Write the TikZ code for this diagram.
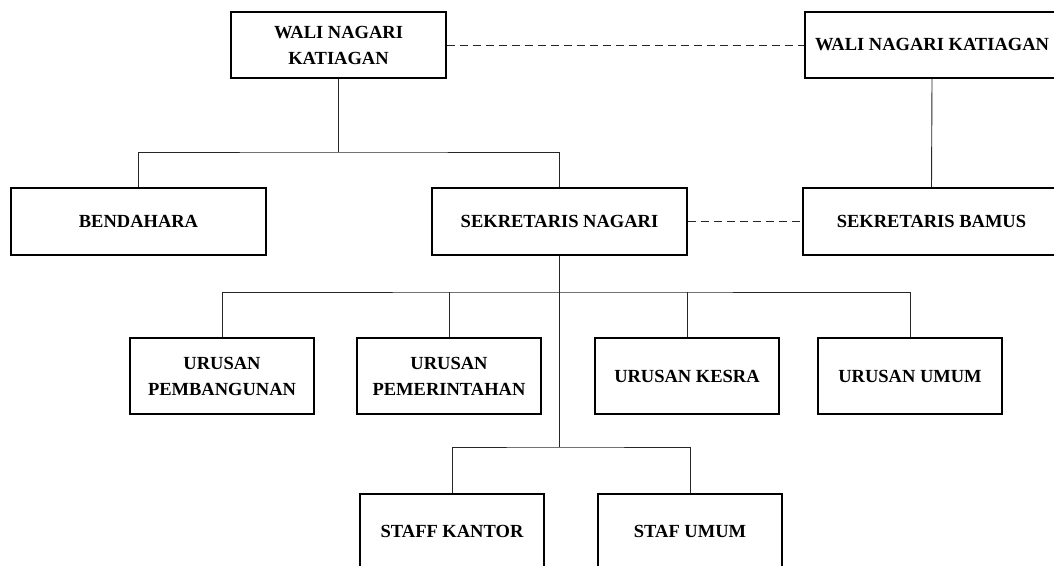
\documentclass[tikz,border=0pt]{standalone}
\usepackage{fontspec}
\setmainfont{Liberation Serif}
\begin{document}
\begin{tikzpicture}[x=1pt,y=-1pt,
  box/.style={draw=black,line width=1.3pt,rectangle,inner sep=0pt,align=center,
    font=\fontsize{18.5}{26}\selectfont\bfseries},
  conn/.style={draw=black!85,line width=0.9pt},
  dconn/.style={draw=black!85,line width=0.9pt,dash pattern=on 8pt off 5pt}]
\useasboundingbox (0,0) rectangle (1054,565);
\clip (0,0) rectangle (1054,565);
\node[box,minimum width=215,minimum height=66] (w1) at (338.5,45) {WALI NAGARI\\KATIAGAN};
\node[box,minimum width=254,minimum height=66] (w2) at (932,45) {WALI NAGARI KATIAGAN};
\node[box,minimum width=255,minimum height=67] (ben) at (138.5,221.5) {BENDAHARA};
\node[box,minimum width=255,minimum height=67] (sek) at (559.5,221.5) {SEKRETARIS NAGARI};
\node[box,minimum width=257,minimum height=67] (bam) at (931.5,221.5) {SEKRETARIS BAMUS};
\node[box,minimum width=184,minimum height=76] (up) at (222,376) {URUSAN\\PEMBANGUNAN};
\node[box,minimum width=184,minimum height=76] (upm) at (449,376) {URUSAN\\PEMERINTAHAN};
\node[box,minimum width=184,minimum height=76] (kes) at (687,376) {URUSAN KESRA};
\node[box,minimum width=184,minimum height=76] (umu) at (910,376) {URUSAN UMUM};
\node[box,minimum width=184,minimum height=75] (sk) at (452,531.5) {STAFF KANTOR};
\node[box,minimum width=184,minimum height=75] (su) at (690,531.5) {STAF UMUM};
\coordinate (h1) at (338.5,152);
\coordinate (h2) at (559.5,292);
\coordinate (h3) at (559.5,447);
\draw[conn] (w1.south) -- (h1);
\draw[conn] (ben.north) |- (h1) -| (sek.north);
\draw[dconn] (w1.east) -- (w2.west);
\draw[dconn] (sek.east) -- (bam.west);
\draw[conn] (w2.south) -- (bam.north);
\draw[conn] (sek.south) -- (h3);
\draw[conn] (up.north) |- (h2) -| (umu.north);
\draw[conn] (upm.north) -- (upm.north |- h2);
\draw[conn] (kes.north) -- (kes.north |- h2);
\draw[conn] (sk.north) |- (h3) -| (su.north);
\end{tikzpicture}
\end{document}
